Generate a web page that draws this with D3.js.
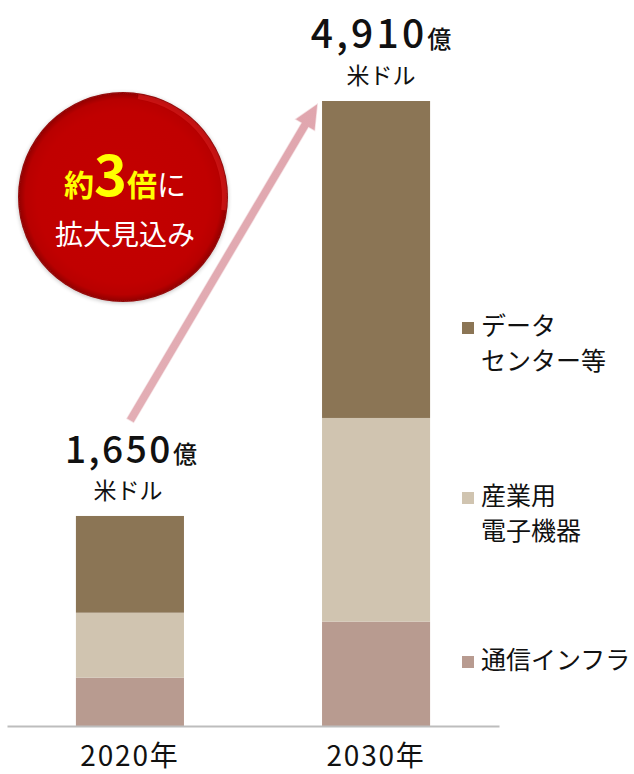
<!DOCTYPE html>
<html><head><meta charset="utf-8">
<script src="https://cdn.jsdelivr.net/npm/d3@7"></script>
<style>
html,body{margin:0;padding:0;background:#fff;}
svg{display:block;font-family:"Noto Sans CJK JP","Noto Sans",sans-serif;}
</style></head>
<body>
<svg id="chart" width="634" height="774"></svg>
<script>
// ---- data ----
const years = ["2020年", "2030年"];
const seriesNames = ["通信インフラ", "産業用電子機器", "データセンター等"];
const legendLines = [["通信インフラ"], ["産業用", "電子機器"], ["データ", "センター等"]];
const telecom = [380, 820];        // 通信インフラ (億米ドル)
const industrial = [510, 1600];    // 産業用電子機器
const datacenter = [760, 2490];    // データセンター等
const totals = [1650, 4910];
const totalLabels = ["1,650", "4,910"];
const unitLabel = "億";
const currencyLabel = "米ドル";
const colors = ["#B89B90", "#D0C4B0", "#8B7555"];

const svg = d3.select("#chart");

const x = d3.scaleBand().domain(years).range([7, 499]).paddingInner(0.561).paddingOuter(0.28);
const y = d3.scaleLinear().domain([0, 4910]).range([726, 101]);

const rows = years.map((yr, i) => ({year: yr, t: telecom[i], ind: industrial[i], dc: datacenter[i]}));
const stack = d3.stack().keys(["t", "ind", "dc"]);
const stacked = stack(rows);

// defs
const defs = svg.append("defs");
const rg = defs.append("radialGradient").attr("id", "ball").attr("cx", "50%").attr("cy", "50%").attr("r", "50%");
rg.append("stop").attr("offset", "0%").attr("stop-color", "#C40000");
rg.append("stop").attr("offset", "82%").attr("stop-color", "#C00000");
rg.append("stop").attr("offset", "93%").attr("stop-color", "#B80000");
rg.append("stop").attr("offset", "100%").attr("stop-color", "#8E0808");
const ag = defs.append("linearGradient").attr("id", "arrowg").attr("gradientUnits", "userSpaceOnUse");
const filt = defs.append("filter").attr("id", "shadow").attr("x", "-20%").attr("y", "-20%").attr("width", "140%").attr("height", "140%");
filt.append("feGaussianBlur").attr("in", "SourceAlpha").attr("stdDeviation", 2);
filt.append("feOffset").attr("dx", 0).attr("dy", 1).attr("result", "b");
filt.append("feComponentTransfer").append("feFuncA").attr("type", "linear").attr("slope", 0.25);
const fm = filt.append("feMerge"); fm.append("feMergeNode"); fm.append("feMergeNode").attr("in", "SourceGraphic");

// bars
svg.append("g").selectAll("g").data(stacked).join("g")
  .attr("fill", (d, i) => colors[i])
  .selectAll("rect").data(d => d).join("rect")
  .attr("x", d => x(d.data.year))
  .attr("width", x.bandwidth())
  .attr("y", d => y(d[1]))
  .attr("height", d => y(d[0]) - y(d[1]));

// axis
const axis = svg.append("g").attr("transform", `translate(0,${y(0)})`)
  .call(d3.axisBottom(x).tickSize(0).tickSizeOuter(0).tickPadding(20));
axis.select(".domain").attr("stroke", "#BDBDBD").attr("stroke-width", 2);
axis.selectAll("text").attr("font-family", "'Noto Sans CJK JP'").attr("font-size", 28).attr("fill", "#111").attr("letter-spacing", 1.8);

// totals
const numSize = [37, 39], numSpacing = [2.5, 3.2];
years.forEach((yr, i) => {
  const cx = x(yr) + x.bandwidth() / 2 + (i === 1 ? 5 : 1);
  const t = svg.append("text").attr("x", cx).attr("y", y(totals[i]) - 53)
    .attr("text-anchor", "middle").attr("fill", "#111");
  t.append("tspan").text(totalLabels[i]).attr("font-size", numSize[i]).attr("font-weight", 500).attr("letter-spacing", numSpacing[i]);
  t.append("tspan").text(unitLabel).attr("font-size", 24).attr("font-weight", 500);
  svg.append("text").attr("x", x(yr) + x.bandwidth() / 2 + (i === 1 ? 5 : -2)).attr("y", y(totals[i]) - 17)
    .attr("text-anchor", "middle").attr("font-size", 23).attr("fill", "#111").text(currencyLabel);
});

// arrow
const x0 = x(years[0]) + x.bandwidth() / 2, y0 = y(totals[0]) - 95;
const x1 = x(years[1]) - 4, y1 = y(totals[1]) + 2;
ag.attr("x1", x0).attr("y1", y0).attr("x2", x1).attr("y2", y1);
ag.append("stop").attr("offset", "0%").attr("stop-color", "#E3AEB5");
ag.append("stop").attr("offset", "100%").attr("stop-color", "#E0A6AE");
const ang = Math.atan2(y1 - y0, x1 - x0);
const headLen = 26, headW = 12, shaftW = 4.5;
const ux = Math.cos(ang), uy = Math.sin(ang), px = -uy, py = ux;
const bx = x1 - ux * headLen, by = y1 - uy * headLen;
const pts = [
  [x0 + px * shaftW, y0 + py * shaftW],
  [bx + px * shaftW, by + py * shaftW],
  [bx + px * headW, by + py * headW],
  [x1, y1],
  [bx - px * headW, by - py * headW],
  [bx - px * shaftW, by - py * shaftW],
  [x0 - px * shaftW, y0 - py * shaftW]
];
svg.append("polygon").attr("points", pts.map(p => p.join(",")).join(" "))
  .attr("fill", "url(#arrowg)").attr("stroke", "#fff").attr("stroke-width", 1.5).attr("stroke-opacity", 0.6);

// circle badge
const ccx = 123, ccy = 197, cr = 105;
svg.append("circle").attr("cx", ccx).attr("cy", ccy).attr("r", cr).attr("fill", "url(#ball)").attr("filter", "url(#shadow)");
svg.append("path")
  .attr("d", d3.arc()({innerRadius: cr - 6, outerRadius: cr - 1, startAngle: 0.15, endAngle: 1.7}))
  .attr("transform", `translate(${ccx},${ccy})`).attr("fill", "#E02020").attr("opacity", 0.55);
const l1 = svg.append("text").attr("x", ccx + 2).attr("y", 196).attr("text-anchor", "middle");
l1.append("tspan").text("約").attr("font-size", 30).attr("font-weight", 700).attr("fill", "#FFFF00");
l1.append("tspan").text("3").attr("font-size", 56).attr("font-weight", 700).attr("fill", "#FFFF00");
l1.append("tspan").text("倍").attr("font-size", 30).attr("font-weight", 700).attr("fill", "#FFFF00");
l1.append("tspan").text("に").attr("font-size", 29).attr("font-weight", 400).attr("fill", "#fff");
svg.append("text").attr("x", ccx + 2).attr("y", 245).attr("text-anchor", "middle")
  .attr("font-size", 28).attr("fill", "#fff").text("拡大見込み");

// legend
const legendY = [669, 505, 335];
legendLines.forEach((lines, i) => {
  const g = svg.append("g");
  g.append("rect").attr("x", 462).attr("y", legendY[i] - 13).attr("width", 12).attr("height", 12).attr("fill", colors[i]);
  lines.forEach((ln, j) => {
    g.append("text").attr("x", 481).attr("y", legendY[i] + j * 35)
      .attr("font-size", 25).attr("fill", "#111").text(ln);
  });
});
</script>
</body></html>
